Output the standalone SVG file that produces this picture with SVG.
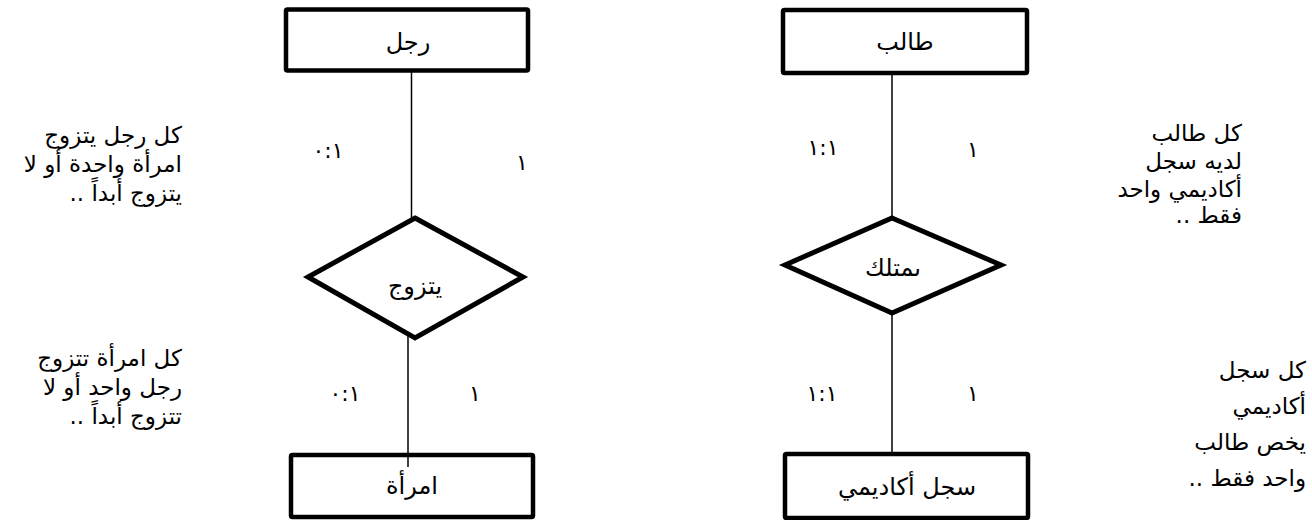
<svg xmlns="http://www.w3.org/2000/svg" width="1312" height="520" viewBox="0 0 1312 520">
<style>
text{font-family:"DejaVu Sans","Liberation Sans",sans-serif;fill:#000}
.lbl{font-size:24px;text-anchor:middle}
.card{font-size:22px;text-anchor:middle}
.note{font-size:23px;direction:rtl;text-anchor:start}
.ent{fill:#fff;stroke:#000;stroke-width:4.5}
.rel{fill:#fff;stroke:#000;stroke-width:5;stroke-linejoin:miter}
.con{stroke:#000;stroke-width:1.5;fill:none}
</style>
<defs>
<clipPath id="clipOwn"><rect x="830" y="245" width="130" height="32"/></clipPath>
<clipPath id="clipNote1"><rect x="1060" y="100" width="220" height="124"/></clipPath>
</defs>
<rect width="1312" height="520" fill="#fff"/>
<g id="connectors">
<line class="con" x1="411.5" y1="71" x2="411.5" y2="220"/>
<line class="con" x1="408" y1="336" x2="408" y2="467"/>
<line class="con" x1="892" y1="73" x2="892" y2="220"/>
<line class="con" x1="892" y1="311" x2="892" y2="456"/>
</g>
<g id="man"><rect class="ent" x="286" y="9.5" width="242" height="61" rx="1.5"/><text class="lbl" x="408" y="50">رجل</text></g>
<g id="marries"><polygon class="rel" points="415,218 523,277 415,338 308,277"/><text class="lbl" x="415" y="294">يتزوج</text></g>
<g id="woman"><rect class="ent" x="291" y="455" width="242" height="62" rx="1.5"/><line class="con" x1="408" y1="455" x2="408" y2="467"/><text class="lbl" x="412" y="494">امرأة</text></g>
<g id="student"><rect class="ent" x="783" y="10" width="244" height="63" rx="1.5"/><text class="lbl" x="905" y="50">طالب</text></g>
<g id="owns"><polygon class="rel" points="892,218 1001,265 892,313 785,265"/><text class="lbl" x="893" y="276" clip-path="url(#clipOwn)">يمتلك</text></g>
<g id="record"><rect class="ent" x="785" y="454" width="243" height="64" rx="1.5"/><text class="lbl" x="907" y="495">سجل أكاديمي</text></g>
<g id="cardinalities">
<text class="card" x="328" y="158" direction="ltr">٠:١</text>
<text class="card" x="522" y="170">١</text>
<text class="card" x="345" y="401" direction="ltr">٠:١</text>
<text class="card" x="475" y="401">١</text>
<text class="card" x="823" y="155" direction="ltr">١:١</text>
<text class="card" x="973" y="157">١</text>
<text class="card" x="822" y="401" direction="ltr">١:١</text>
<text class="card" x="973" y="401">١</text>
</g>
<g id="note-man"><text class="note" x="182" y="143">كل رجل يتزوج</text><text class="note" x="182" y="172">امرأة واحدة أو لا</text><text class="note" x="182" y="201">يتزوج أبداً ..</text></g>
<g id="note-woman"><text class="note" x="182" y="366">كل امرأة تتزوج</text><text class="note" x="182" y="395">رجل واحد أو لا</text><text class="note" x="182" y="424">تتزوج أبداً ..</text></g>
<g id="note-student" clip-path="url(#clipNote1)"><text class="note" x="1242" y="141">كل طالب</text><text class="note" x="1242" y="169">لديه سجل</text><text class="note" x="1242" y="197">أكاديمي واحد</text><text class="note" x="1242" y="223">فقط ..</text></g>
<g id="note-record"><text class="note" x="1306" y="378">كل سجل</text><text class="note" x="1306" y="414">أكاديمي</text><text class="note" x="1306" y="450">يخص طالب</text><text class="note" x="1306" y="486">واحد فقط ..</text></g>
</svg>
